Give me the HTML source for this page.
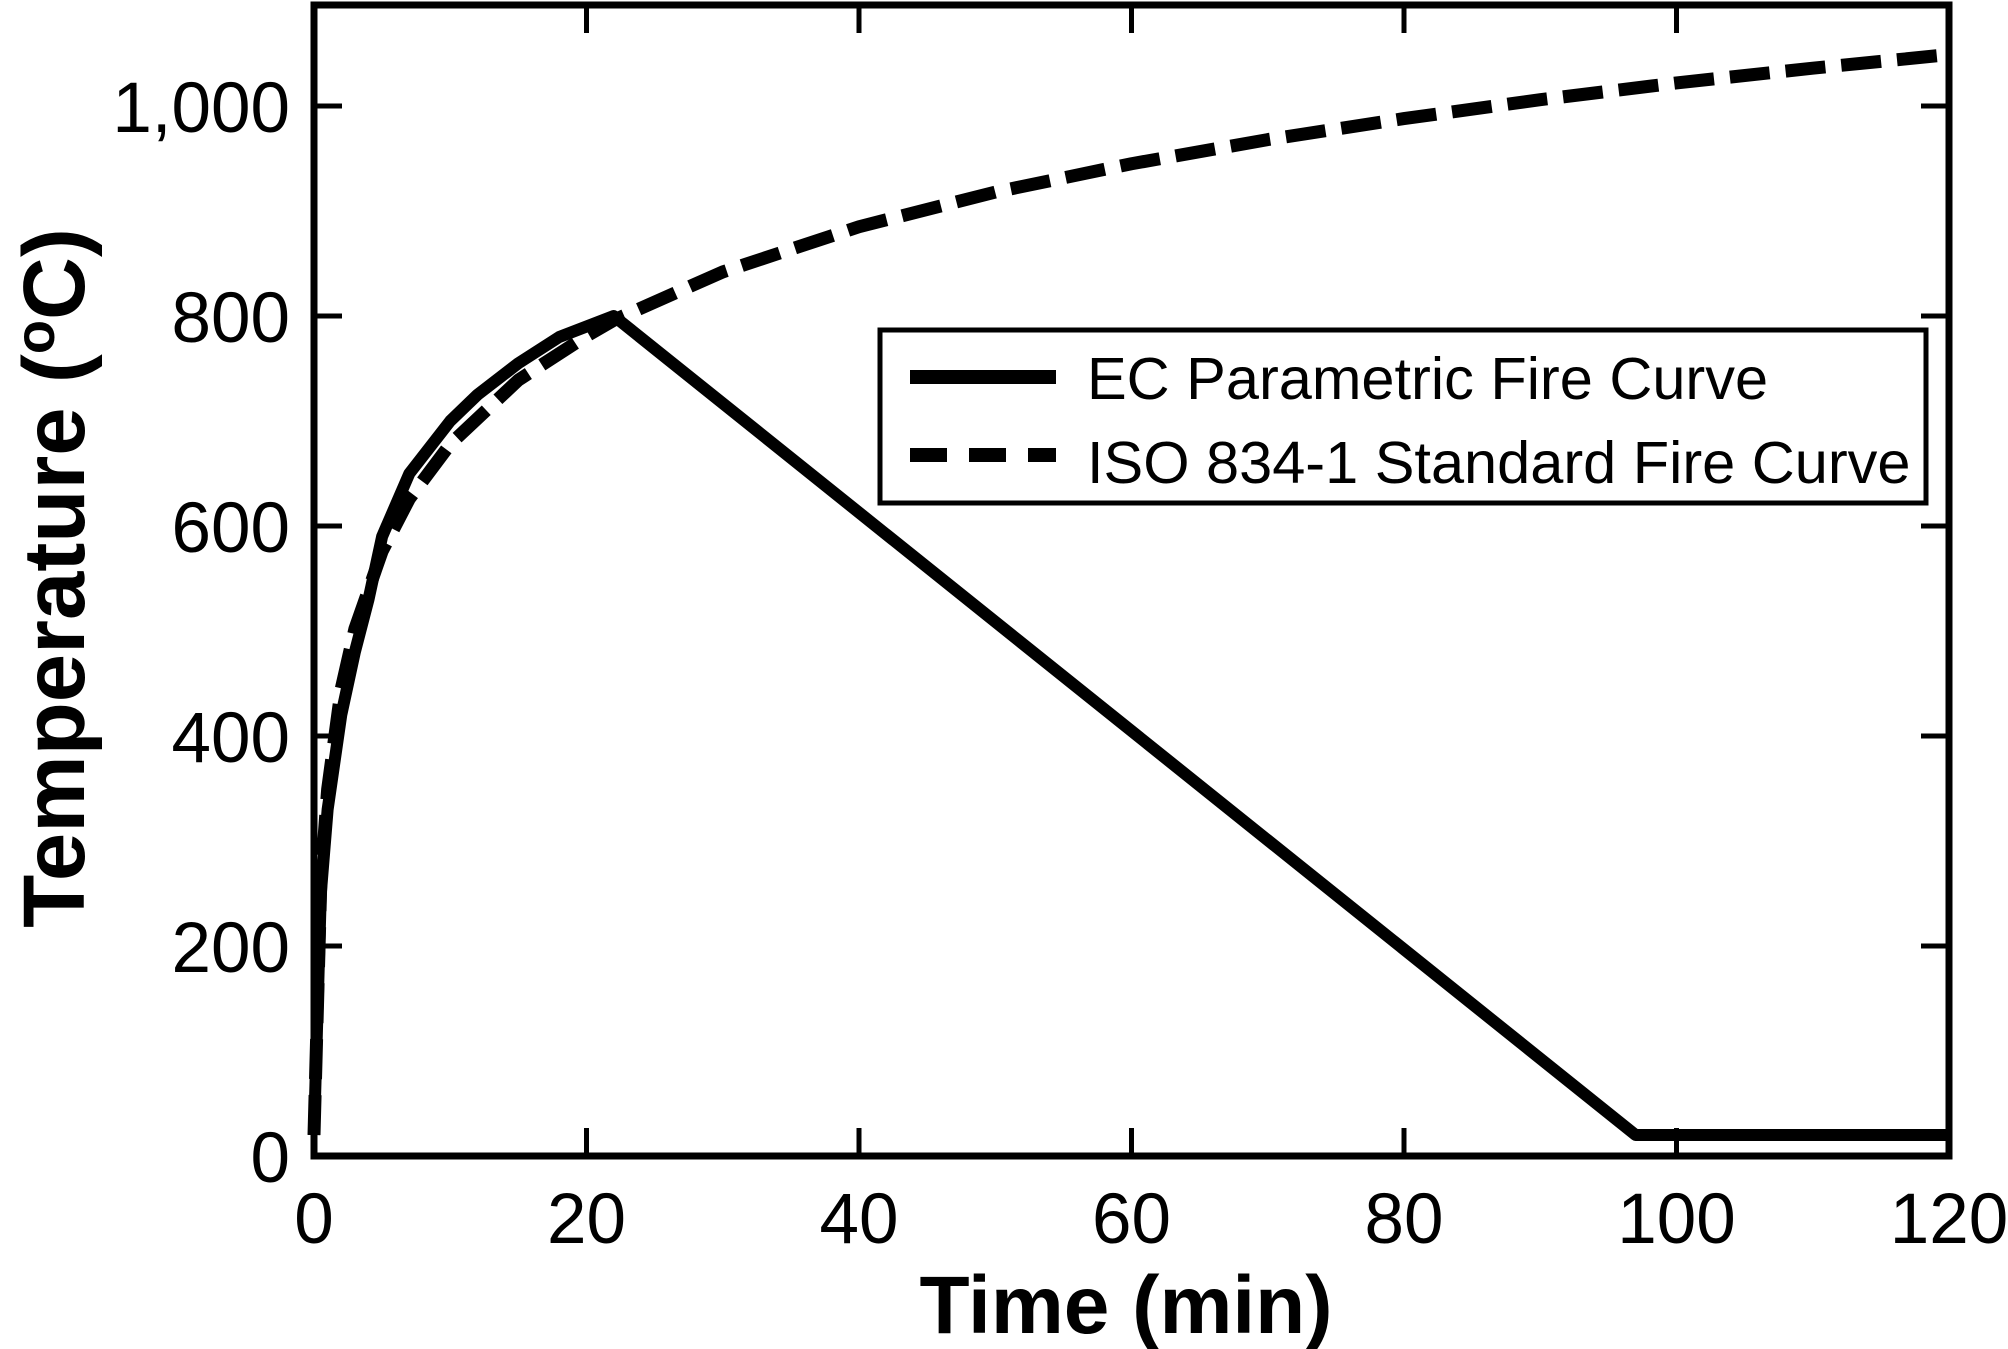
<!DOCTYPE html>
<html><head><meta charset="utf-8"><style>
body{margin:0;background:#fff}
svg{display:block}
text{font-family:"Liberation Sans",Arial,sans-serif;fill:#000}
</style></head><body>
<svg id="chart" width="2008" height="1349" viewBox="0 0 2008 1349" xmlns="http://www.w3.org/2000/svg">
<g id="axes"></g>
<g id="series"></g>
<g>
<rect x="880" y="330" width="1046" height="173" fill="#fff" stroke="#000" stroke-width="5"/>
<line x1="910" y1="377" x2="1056" y2="377" stroke="#000" stroke-width="14"/>
<text x="1087" y="399" font-size="59.5">EC Parametric Fire Curve</text>
<line x1="910" y1="455" x2="1056" y2="455" stroke="#000" stroke-width="14" stroke-dasharray="37,22"/>
<text x="1087" y="483" font-size="59.5">ISO 834-1 Standard Fire Curve</text>
</g>
<text x="1126" y="1333" font-size="82" font-weight="bold" text-anchor="middle">Time (min)</text>
<text transform="translate(84,578) rotate(-90)" font-size="87" font-weight="bold" text-anchor="middle">Temperature (<tspan font-size="56" dy="-30">o</tspan><tspan dy="30">C)</tspan></text>
</svg>
<script>
const xTicks=[0,20,40,60,80,100,120];
const yTicks=[0,200,400,600,800,1000];
const yTickLabels=["0","200","400","600","800","1,000"];
const ecTime=[0,0.5,1,2,3,4,5,7,10,12,15,18,22,97,120];
const ecTemp=[20,250,330,420,480,530,590,650,700,725,755,780,800,20,20];
const isoTime=[0,0.5,1,2,3,5,7,10,15,20,22,30,40,50,60,70,80,90,100,110,120];
const isoTemp=[20,261,349,445,502,576,626,678,739,781,796,842,885,918,945,968,988,1006,1022,1036,1049];
const L=314,R=1949,T=5,B=1156;
const X=v=>L+(v-0)/120*(R-L);
const Y=v=>B-v/1000*(B-106);
const NS="http://www.w3.org/2000/svg";
const ax=document.getElementById('axes'),se=document.getElementById('series');
function mk(tag,attrs,parent){const e=document.createElementNS(NS,tag);for(const k in attrs)e.setAttribute(k,attrs[k]);parent.appendChild(e);return e;}
const fr=mk('rect',{x:L,y:T,width:R-L,height:B-T,fill:'none',stroke:'#000','stroke-width':7},ax);


xTicks.forEach(v=>{
 const x=X(v);
 const t1=mk('line',{x1:x,y1:B,x2:x,y2:B-28,stroke:'#000','stroke-width':5},ax);
 
 
 const t2=mk('line',{x1:x,y1:T,x2:x,y2:T+28,stroke:'#000','stroke-width':5},ax);
 
 
 const tx=mk('text',{x:x,y:1243,'font-size':71,'text-anchor':'middle'},ax);
 tx.textContent=String(v);
 
 
});
yTicks.forEach((v,i)=>{
 const y=Y(v);
 const t1=mk('line',{x1:L,y1:y,x2:L+28,y2:y,stroke:'#000','stroke-width':5},ax);
 
 
 const t2=mk('line',{x1:R,y1:y,x2:R-28,y2:y,stroke:'#000','stroke-width':5},ax);
 
 
 const tx=mk('text',{x:290,y:y+26,'font-size':71,'text-anchor':'end'},ax);
 tx.textContent=yTickLabels[i];
 
 
});
const isoPts=isoTime.map((t,i)=>X(t)+','+Y(isoTemp[i])).join(' ');
const iso=mk('polyline',{points:isoPts,fill:'none',stroke:'#000','stroke-width':13,'stroke-dasharray':'40,16','stroke-linejoin':'round'},se);


const ecPts=ecTime.map((t,i)=>X(t)+','+Y(ecTemp[i])).join(' ');
const ec=mk('polyline',{points:ecPts,fill:'none',stroke:'#000','stroke-width':12,'stroke-linejoin':'round'},se);


</script>
</body></html>
